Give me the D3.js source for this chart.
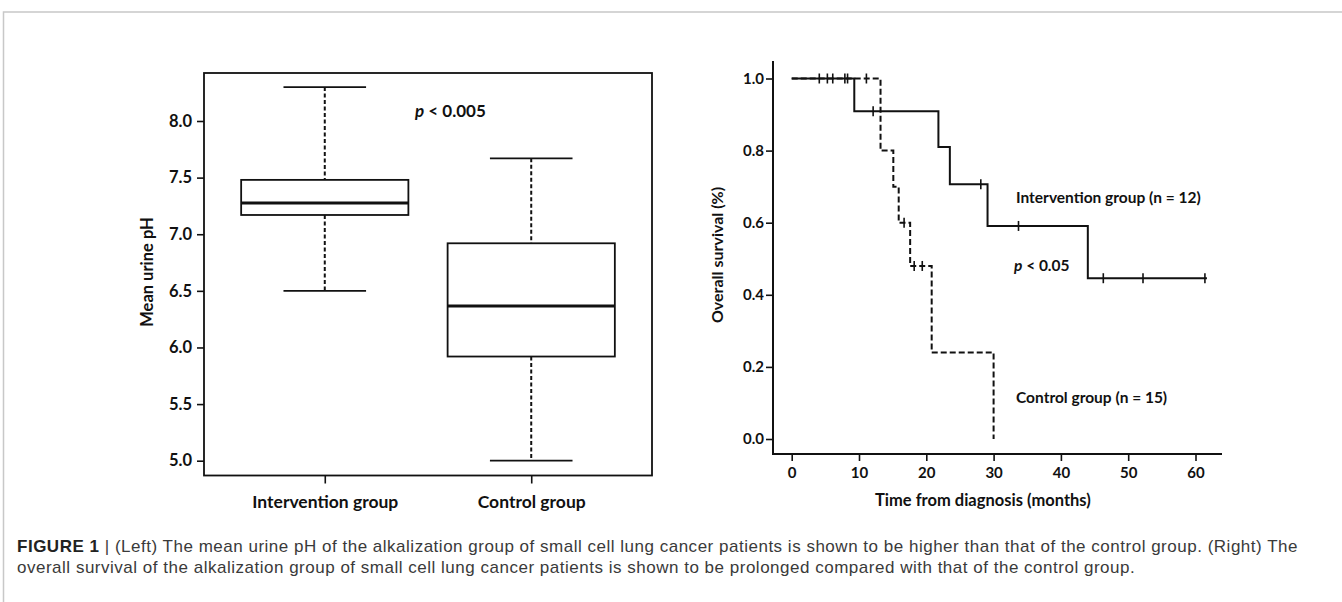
<!DOCTYPE html>
<html>
<head>
<meta charset="utf-8">
<title>Figure 1</title>
<style>
    body { margin: 0; background: #fff; }
    svg { display: block; }
    .lbl { font-family: Lato, "Open Sans", sans-serif; font-weight: 700; fill: #111; }
    .axis text { font-family: Lato, "Open Sans", sans-serif; font-weight: 700; fill: #111; }
    .axis line { stroke: #111; stroke-width: 1.6; }
    .caption { font-family: "Liberation Sans", Arial, sans-serif; fill: #3a3a3a; }
</style>
</head>
<body>
<script src="https://cdn.jsdelivr.net/npm/d3@7/dist/d3.min.js"></script>
<script>
    // ---- data : box plot (left) ----
    var groups = ["Intervention group", "Control group"];
    var whiskerHigh = [8.30, 7.67];
    var q3 = [7.48, 6.92];
    var median = [7.275, 6.366];
    var q1 = [7.17, 5.92];
    var whiskerLow = [6.5, 5.0];
    var phTicks = [5.0, 5.5, 6.0, 6.5, 7.0, 7.5, 8.0];

    // ---- data : Kaplan-Meier (right) ----
    var intTimes = [0, 9.3, 21.8, 23.5, 29.1, 44.0, 61.7];
    var intSurv = [1.0, 0.909, 0.81, 0.707, 0.591, 0.446, 0.446];
    var intCensor = [7.9, 12.1, 28.1, 33.7, 46.3, 52.2, 61.4];
    var ctlTimes = [0, 13.2, 15.1, 15.9, 17.6, 20.8, 30.0];
    var ctlSurv = [1.0, 0.80, 0.70, 0.60, 0.48, 0.24, 0.0];
    var ctlCensor = [4.1, 5.3, 6.1, 8.3, 11.1, 16.7, 18.2, 19.4];
    var survTicks = [0, 0.2, 0.4, 0.6, 0.8, 1.0];
    var monthTicks = [0, 10, 20, 30, 40, 50, 60];

    var captionLines = [
        "(Left) The mean urine pH of the alkalization group of small cell lung cancer patients is shown to be higher than that of the control group. (Right) The",
        "overall survival of the alkalization group of small cell lung cancer patients is shown to be prolonged compared with that of the control group."
    ];

    var W = 1342, H = 602;
    var svg = d3.select("body").append("svg")
        .attr("width", W)
        .attr("height", H);

    // outer frame (top + left rule)
    svg.append("path")
        .attr("d", "M3.5," + H + "V12H" + W)
        .attr("fill", "none")
        .attr("stroke", "#c8c8c8")
        .attr("stroke-width", 1.5);

    /* ================= left: box plot ================= */
    var L = {left: 204, right: 652, top: 73, bottom: 475.5};

    var yL = d3.scaleLinear().domain([5, 8]).range([460.7, 121]);
    var xL = d3.scalePoint().domain(groups).range([L.left, L.right]).padding(0.585);
    var step = xL.step();

    var gL = svg.append("g");

    gL.append("rect")
        .attr("x", L.left).attr("y", L.top)
        .attr("width", L.right - L.left).attr("height", L.bottom - L.top)
        .attr("fill", "none").attr("stroke", "#111").attr("stroke-width", 1.8);

    var yAxisL = d3.axisLeft(yL).tickValues(phTicks).tickFormat(d3.format(".1f"))
        .tickSize(7).tickPadding(5);
    var yaL = gL.append("g").attr("class", "axis")
        .attr("transform", "translate(" + L.left + ",0)")
        .call(yAxisL);
    yaL.select(".domain").remove();
    yaL.selectAll("text").style("font-size", "16.5px");

    var xAxisL = d3.axisBottom(xL).tickSize(8).tickPadding(12);
    var xaL = gL.append("g").attr("class", "axis")
        .attr("transform", "translate(0," + L.bottom + ")")
        .call(xAxisL);
    xaL.select(".domain").remove();
    xaL.selectAll("text").style("font-size", "17.5px");

    var boxes = gL.selectAll(".box")
        .data(groups)
        .enter().append("g").attr("class", "box");

    // dashed whiskers
    boxes.append("line")
        .attr("x1", function (d) { return xL(d); })
        .attr("x2", function (d) { return xL(d); })
        .attr("y1", function (d, i) { return yL(whiskerHigh[i]); })
        .attr("y2", function (d, i) { return yL(q3[i]); })
        .attr("stroke", "#111").attr("stroke-width", 2).attr("stroke-dasharray", "4,2.5");
    boxes.append("line")
        .attr("x1", function (d) { return xL(d); })
        .attr("x2", function (d) { return xL(d); })
        .attr("y1", function (d, i) { return yL(q1[i]); })
        .attr("y2", function (d, i) { return yL(whiskerLow[i]); })
        .attr("stroke", "#111").attr("stroke-width", 2).attr("stroke-dasharray", "4,2.5");
    // caps
    [whiskerHigh, whiskerLow].forEach(function (arr) {
        boxes.append("line")
            .attr("x1", function (d) { return xL(d) - step * 0.2; })
            .attr("x2", function (d) { return xL(d) + step * 0.2; })
            .attr("y1", function (d, i) { return yL(arr[i]); })
            .attr("y2", function (d, i) { return yL(arr[i]); })
            .attr("stroke", "#111").attr("stroke-width", 1.8);
    });
    // box
    boxes.append("rect")
        .attr("x", function (d) { return xL(d) - step * 0.405; })
        .attr("width", step * 0.81)
        .attr("y", function (d, i) { return yL(q3[i]); })
        .attr("height", function (d, i) { return yL(q1[i]) - yL(q3[i]); })
        .attr("fill", "#fff").attr("stroke", "#111").attr("stroke-width", 1.8);
    // median
    boxes.append("line")
        .attr("x1", function (d) { return xL(d) - step * 0.405; })
        .attr("x2", function (d) { return xL(d) + step * 0.405; })
        .attr("y1", function (d, i) { return yL(median[i]); })
        .attr("y2", function (d, i) { return yL(median[i]); })
        .attr("stroke", "#111").attr("stroke-width", 3);

    gL.append("text").attr("class", "lbl")
        .attr("transform", "translate(147,272) rotate(-90)")
        .attr("text-anchor", "middle").attr("dominant-baseline", "central")
        .style("font-size", "16.5px")
        .text("Mean urine pH");

    var pL = gL.append("text").attr("class", "lbl")
        .attr("x", 415).attr("y", 117)
        .style("font-size", "17px");
    pL.append("tspan").style("font-style", "italic").text("p");
    pL.append("tspan").text(" < 0.005");

    /* ================= right: Kaplan-Meier ================= */
    var xR = d3.scaleLinear().domain([0, 60]).range([791.7, 1195.5]);
    var yR = d3.scaleLinear().domain([0, 1]).range([439, 78.5]);
    var axX = 773, axY = 454;

    var gR = svg.append("g");

    var yAxisR = d3.axisLeft(yR).tickValues(survTicks).tickFormat(d3.format(".1f"))
        .tickSize(7).tickPadding(2);
    var yaR = gR.append("g").attr("class", "axis")
        .attr("transform", "translate(" + axX + ",0)")
        .call(yAxisR);
    yaR.select(".domain").remove();
    yaR.selectAll("text").style("font-size", "15px");

    var xAxisR = d3.axisBottom(xR).tickValues(monthTicks).tickSize(7).tickPadding(6);
    var xaR = gR.append("g").attr("class", "axis")
        .attr("transform", "translate(0," + axY + ")")
        .call(xAxisR);
    xaR.select(".domain").remove();
    xaR.selectAll("text").style("font-size", "15px");

    // axis lines (offset from data origin)
    gR.append("path")
        .attr("d", "M" + axX + ",61V" + axY + "H1222")
        .attr("fill", "none").attr("stroke", "#111").attr("stroke-width", 2);

    var stepLine = d3.line()
        .x(function (d) { return xR(d[0]); })
        .y(function (d) { return yR(d[1]); })
        .curve(d3.curveStepAfter);

    var ctlPts = ctlTimes.map(function (t, i) { return [t, ctlSurv[i]]; });
    var intPts = intTimes.map(function (t, i) { return [t, intSurv[i]]; });

    gR.append("path")
        .attr("d", stepLine(ctlPts))
        .attr("fill", "none").attr("stroke", "#111").attr("stroke-width", 2)
        .attr("stroke-dasharray", "6,3");
    gR.append("path")
        .attr("d", stepLine(intPts))
        .attr("fill", "none").attr("stroke", "#111").attr("stroke-width", 2);

    function survAt(times, surv, t) {
        var s = surv[0];
        for (var i = 0; i < times.length; i++) {
            if (times[i] <= t) s = surv[i];
        }
        return s;
    }

    function censorMarks(list, times, surv, cls) {
        gR.selectAll("." + cls)
            .data(list)
            .enter().append("line")
            .attr("class", cls)
            .attr("x1", function (d) { return xR(d); })
            .attr("x2", function (d) { return xR(d); })
            .attr("y1", function (d) { return yR(survAt(times, surv, d)) - 5; })
            .attr("y2", function (d) { return yR(survAt(times, surv, d)) + 5; })
            .attr("stroke", "#111").attr("stroke-width", 1.6);
    }
    censorMarks(intCensor, intTimes, intSurv, "cint");
    censorMarks(ctlCensor, ctlTimes, ctlSurv, "cctl");

    gR.append("text").attr("class", "lbl")
        .attr("transform", "translate(716,255) rotate(-90)")
        .attr("text-anchor", "middle").attr("dominant-baseline", "central")
        .style("font-size", "16px")
        .text("Overall survival (%)");

    gR.append("text").attr("class", "lbl")
        .attr("x", 875).attr("y", 506)
        .style("font-size", "16.5px")
        .text("Time from diagnosis (months)");

    gR.append("text").attr("class", "lbl")
        .attr("x", 1016).attr("y", 203)
        .style("font-size", "15.5px")
        .text("Intervention group (n = 12)");

    var pR = gR.append("text").attr("class", "lbl")
        .attr("x", 1014).attr("y", 271)
        .style("font-size", "15.5px");
    pR.append("tspan").style("font-style", "italic").text("p");
    pR.append("tspan").text(" < 0.05");

    gR.append("text").attr("class", "lbl")
        .attr("x", 1016).attr("y", 403)
        .style("font-size", "15.5px")
        .text("Control group (n = 15)");

    /* ================= caption ================= */
    var cap1 = svg.append("text").attr("class", "caption")
        .attr("x", 17).attr("y", 552)
        .style("font-size", "17px");
    cap1.append("tspan").style("font-weight", "700").style("fill", "#222").text("FIGURE 1");
    cap1.append("tspan").text(" | " + captionLines[0]);

    var cap2 = svg.append("text").attr("class", "caption")
        .attr("x", 17).attr("y", 573)
        .style("font-size", "17px")
        .text(captionLines[1]);

    // the caption face runs a bit wider than Liberation Sans: open the tracking so line 1 ends at ~1298
    var natural = cap1.node().getComputedTextLength();
    var nChars = ("FIGURE 1 | " + captionLines[0]).length;
    var track = (1298 - 17 - natural) / nChars;
    cap1.style("letter-spacing", track + "px");
    cap2.style("letter-spacing", track + "px");
</script>
</body>
</html>
